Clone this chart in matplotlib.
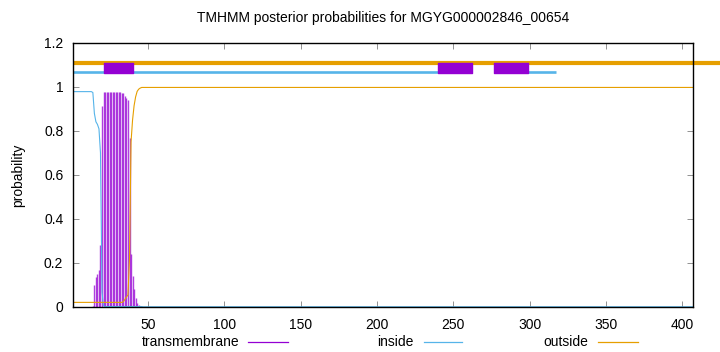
import matplotlib
matplotlib.use("Agg")
import matplotlib.pyplot as plt
from matplotlib.lines import Line2D
import numpy as np

plt.rcParams['font.family'] = ['Liberation Sans', 'DejaVu Sans']
plt.rcParams['font.size'] = 10

title = "TMHMM posterior probabilities for MGYG000002846_00654"
seq_len = 407

# posterior probabilities, residues 1..46, then constant tails
tm_head = [0, 0, 0, 0, 0, 0, 0, 0, 0, 0, 0, 0, 0, 0.005,
           0.10, 0.138, 0.15, 0.17, 0.28, 0.914,
           0.976, 0.976, 0.976, 0.976, 0.976, 0.976, 0.976, 0.976, 0.976, 0.976, 0.976, 0.976, 0.975,
           0.972, 0.96, 0.95, 0.94, 0.77, 0.24, 0.14, 0.08, 0.04, 0.018, 0.008, 0.003, 0.0]
tm_tail = 0.0
inside_head = [0.979] * 13 + [0.975, 0.88, 0.842, 0.83, 0.81, 0.70, 0.066, 0.005] + [0.002] * 25
inside_tail = 0.001
outside_head = [0.021] * 33 + [0.024, 0.035, 0.045, 0.055, 0.22, 0.75, 0.85, 0.915, 0.955,
                              0.98, 0.99, 0.995, 0.998]
outside_tail = 0.998

# predicted topology segments (start, end)
outside_segments = [(1, 425)]
inside_segments = [(1, 240), (299, 317)]
tm_segments = [(21, 40), (240, 262), (277, 299)]

xticks = [50, 100, 150, 200, 250, 300, 350, 400]
yticks = [0, 0.2, 0.4, 0.6, 0.8, 1.0, 1.2]
legend_labels = ["transmembrane", "inside", "outside"]

c_tm = '#9400D3'
c_in = '#56B4E9'
c_out = '#E69F00'

pos = np.arange(1, seq_len + 1)
def full(head, tail):
    return np.array(list(head) + [tail] * (seq_len - len(head)))
tm = full(tm_head, tm_tail)
inside = full(inside_head, inside_tail)
outside = full(outside_head, outside_tail)

fig = plt.figure(figsize=(7.2, 3.52), dpi=100)
ax = fig.add_axes([73/720, 1 - 307/352, (693-73)/720, (307-43)/352])

ax.vlines(pos, 0, tm, color=c_tm, lw=1.0, alpha=0.75, zorder=2)
ax.plot(pos, inside, color=c_in, lw=0.8, zorder=3)
ax.plot(pos, outside, color=c_out, lw=0.8, zorder=3)

for s, e in outside_segments:
    ax.plot([s, e], [1.107, 1.107], color=c_out, lw=3.0, solid_capstyle='butt',
            clip_on=False, zorder=4)
for s, e in inside_segments:
    ax.plot([s, e], [1.068, 1.068], color=c_in, lw=1.9, solid_capstyle='butt', zorder=4)
ax.broken_barh([(s, e - s) for s, e in tm_segments], (1.062, 0.047), color=c_tm, zorder=5)

ax.set_xlim(1, seq_len)
ax.set_ylim(0, 1.2)
ax.set_xticks(xticks)
ax.set_yticks(yticks)
ax.set_yticklabels([f"{v:g}" for v in yticks])
ax.tick_params(direction='in', length=4, width=0.6, color='#808080', top=True, right=True)
ax.tick_params(axis='y', pad=7)
ax.tick_params(axis='x', pad=8)
for sp in ax.spines.values():
    sp.set_linewidth(1.0)
    sp.set_zorder(6)

ax.set_title(title, fontsize=10, pad=15)
fig.text(18/720, 1 - 175/352, "probability", rotation=90, ha='center', va='center', fontsize=10)

# legend (gnuplot style: text then sample)
leg_text_right = [239, 414, 588]
leg_line = [(248, 288), (424, 462), (598, 638)]
leg_y = 1 - 342/352
for lab, tr, (l0, l1), c in zip(legend_labels, leg_text_right, leg_line, [c_tm, c_in, c_out]):
    fig.text(tr/720, leg_y, lab, ha='right', va='center', fontsize=10)
    fig.add_artist(Line2D([l0/720, l1/720], [leg_y, leg_y], color=c, lw=0.9,
                          transform=fig.transFigure))

fig.savefig("out.png", dpi=100)
